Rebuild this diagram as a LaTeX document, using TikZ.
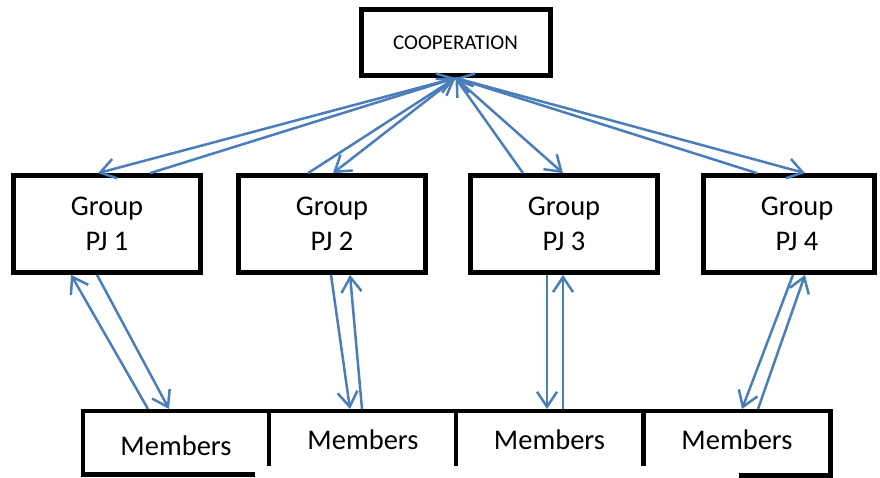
\documentclass[tikz,border=0pt]{standalone}
\usepackage{fontspec}
\setmainfont{Carlito}
\usetikzlibrary{arrows.meta}
\definecolor{lnblue}{HTML}{4A7EBB}
\begin{document}
\begin{tikzpicture}[x=1pt,y=-1pt,
  box/.style={draw=black, line width=4.7pt, fill=white, minimum width=187pt, minimum height=97pt, inner sep=0pt, align=center, font=\fontsize{28.5}{35}\selectfont},
  coopbox/.style={draw=black, line width=5pt, fill=white, minimum width=189pt, minimum height=66pt, inner sep=0pt, font=\fontsize{21}{25}\selectfont},
  memb/.style={inner sep=0pt, minimum width=187pt, minimum height=62pt, anchor=north, font=\fontsize{28.5}{34}\selectfont},
  frame/.style={line width=4.5pt, draw=black, line join=miter},
  arr/.style={draw=lnblue, line width=2.5pt, -{Straight Barb[length=15pt,width=20pt]}},
]
\useasboundingbox (0,0) rectangle (880,477);

\node[coopbox] (coop) at (455.5,42.5) {COOPERATION};
\node[box] (g1) at (107,224) {Group\\PJ 1};
\node[box] (g2) at (332,224) {Group\\PJ 2};
\node[box] (g3) at (564,224) {Group\\PJ 3};
\node[box, minimum width=171pt] (g4) at (789,224) {\hspace*{16pt}Group\\\hspace*{16pt}PJ 4};

\node[memb, minimum height=74pt] (m1) at (176,409) {Members};
\node[memb] (m2) at (363,409) {Members};
\node[memb] (m3) at (549.5,409) {Members};
\node[memb] (m4) at (737,409) {Members};

% member frames
\draw[frame] (255,474.5) -- (83,474.5) -- (83,411) -- (830.5,411) -- (830.5,475.5) -- (739,475.5);
\draw[frame] (269,411) -- (269,466);
\draw[frame] (456,411) -- (456,466);
\draw[frame] (643.5,411) -- (643.5,466);
\draw[frame] (83,474) -- (83,477);

% cooperation <-> groups
\draw[arr] (coop.south) -- ([xshift=-9pt]g1.north);
\draw[arr] ([xshift=43pt]g1.north) -- (coop.south);
\draw[arr] ([xshift=-24pt]g2.north) -- (coop.south);
\draw[arr] (coop.south) -- ([xshift=1pt]g2.north);
\draw[arr] ([xshift=-41pt]g3.north) -- (coop.south);
\draw[arr] (coop.south) -- ([xshift=-1pt]g3.north);
\draw[arr] ([xshift=-32pt]g4.north) -- (coop.south);
\draw[arr] (coop.south) -- ([xshift=16pt]g4.north);

% groups <-> members
\draw[arr] ([xshift=-10pt]g1.south) -- ([xshift=-7pt]m1.north);
\draw[arr] ([xshift=-28pt]m1.north) -- ([xshift=-36pt]g1.south);
\draw[arr] ([xshift=-1pt]g2.south) -- ([xshift=-13pt]m2.north);
\draw[arr] ([xshift=-1pt]m2.north) -- ([xshift=18pt]g2.south);
\draw[arr] ([xshift=-17pt]g3.south) -- ([xshift=-2.5pt]m3.north);
\draw[arr] ([xshift=13.5pt]m3.north) -- ([xshift=-1pt]g3.south);
\draw[arr] ([xshift=4pt]g4.south) -- ([xshift=5pt]m4.north);
\draw[arr] ([xshift=21pt]m4.north) -- ([xshift=16pt]g4.south);
\end{tikzpicture}
\end{document}
